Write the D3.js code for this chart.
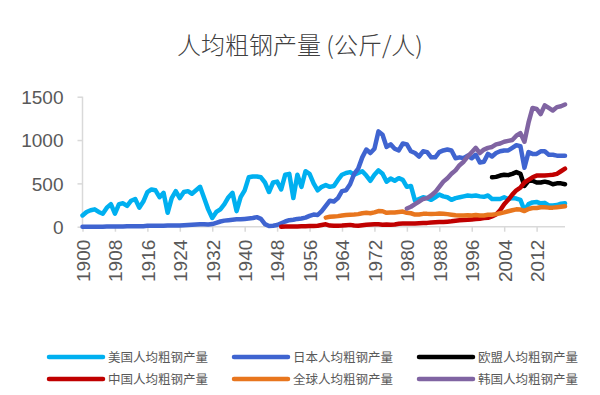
<!DOCTYPE html>
<html>
<head>
<meta charset="utf-8">
<script src="https://cdn.jsdelivr.net/npm/d3@7"></script>
<style>
    body { margin: 0; background: #fff; }
    .tickText { font-family: "Liberation Sans", Arial, sans-serif; font-size: 19px; fill: #595959; }
    .legendText { font-family: "Noto Sans CJK SC", sans-serif; font-size: 12.5px; fill: #595959; }
</style>
</head>
<body>
<div id="my_dataviz"></div>
<script>
/**
 * Data: kg of crude steel per person, one array per series
 */
var seriesNames = ["美国人均粗钢产量", "日本人均粗钢产量", "欧盟人均粗钢产量", "中国人均粗钢产量", "全球人均粗钢产量", "韩国人均粗钢产量"];
var seriesColors = ["#00B0F0", "#3F64D0", "#000000", "#C00000", "#E8761E", "#8064A2"];
var xTicks = [1900, 1908, 1916, 1924, 1932, 1940, 1948, 1956, 1964, 1972, 1980, 1988, 1996, 2004, 2012];
var yTicks = [0, 500, 1000, 1500];

// 1900 - 2019
var usa = [130, 170, 190, 200, 170, 150, 220, 260, 150, 260,
    270, 240, 300, 320, 220, 290, 400, 430, 420, 340,
    390, 160, 330, 410, 330, 400, 410, 380, 420, 460,
    330, 200, 100, 170, 200, 260, 340, 390, 180, 340,
    420, 570, 580, 580, 570, 510, 400, 510, 520, 430,
    600, 610, 330, 600, 460, 640, 610, 500, 420, 460,
    480, 460, 470, 540, 600, 620, 630, 600, 620, 640,
    590, 530, 600, 650, 610, 520, 555, 530, 560, 540,
    460, 470, 300, 320, 340, 330, 310, 340, 370, 350,
    340, 310, 330, 340, 350, 360, 355, 360, 350, 345,
    360, 320, 320, 320, 340, 320, 330, 325, 310, 190,
    260, 280, 285, 270, 275, 245, 245, 250, 265, 270];
// 1900 - 2019
var japan = [0, 0, 0, 0, 0, 0, 2, 2, 2, 2,
    3, 5, 5, 5, 5, 6, 10, 10, 10, 10,
    12, 15, 15, 15, 15, 18, 20, 22, 25, 28,
    28, 25, 30, 45, 60, 70, 75, 80, 85, 85,
    90, 95, 100, 110, 90, 30, 8, 12, 20, 40,
    60, 75, 80, 90, 95, 105, 125, 140, 135, 180,
    240, 300, 290, 330, 410, 420, 490, 610, 670, 800,
    890, 850, 900, 1100, 1060, 920, 950, 900, 880, 960,
    950, 870, 850, 810, 870, 860, 800, 800, 860, 880,
    890, 880, 790, 800, 790, 820, 790, 830, 740, 750,
    840, 810, 850, 870, 880, 880, 910, 940, 930, 680,
    860, 840, 840, 870, 870, 830, 830, 820, 820, 820];
// 2001 - 2019
var eu = [570, 575, 590, 600, 595, 610, 630, 610, 470, 530,
    530, 510, 510, 520, 510, 490, 500, 500, 490];
// 1949 - 2019
var china = [0,
    1, 2, 2, 3, 4, 5, 7, 8, 12, 20,
    28, 13, 10, 11, 13, 17, 21, 14, 12, 17,
    22, 25, 27, 28, 23, 26, 22, 25, 33, 36,
    38, 36, 37, 39, 42, 44, 49, 52, 54, 55,
    58, 62, 69, 75, 78, 79, 83, 88, 92, 99,
    102, 119, 140, 190, 260, 310, 370, 420, 450, 510,
    540, 570, 590, 590, 590, 595, 600, 610, 640, 670];
// 1960 - 2019
var world = [105, 115, 118, 122, 130, 135, 138, 140, 145, 155,
    160, 155, 165, 180, 178, 160, 165, 165, 170, 175,
    160, 155, 140, 140, 148, 148, 146, 148, 152, 150,
    145, 138, 132, 130, 130, 133, 130, 135, 130, 130,
    138, 138, 145, 155, 165, 178, 190, 200, 198, 180,
    205, 215, 215, 225, 225, 220, 220, 225, 230, 235];
// 1980 - 2019
var korea = [210, 230, 260, 290, 320, 330, 360, 400, 460, 520,
    560, 610, 650, 710, 750, 810, 860, 910, 850, 890,
    910, 920, 950, 960, 980, 990, 1000, 1050, 1080, 980,
    1200, 1370, 1360, 1300, 1400, 1370, 1340, 1380, 1390, 1410];

var startYears = [1900, 1900, 2001, 1949, 1960, 1980];
var seriesValues = [usa, japan, eu, china, world, korea];

/**
 * Stage
 */
var width = 600,
    height = 395;

var svg = d3.select("#my_dataviz")
    .append("svg")
    .attr("width", width)
    .attr("height", height);

var x = d3.scaleLinear().domain([1900, 2019]).range([82.5, 565]);
var y = d3.scaleLinear().domain([0, 1500]).range([226.7, 96.7]);

/**
 * Title
 */
svg.append("text")
    .attr("x", 300)
    .attr("y", 54)
    .attr("text-anchor", "middle")
    .style("font-family", "'Noto Sans CJK SC', sans-serif")
    .style("font-size", "24px")
    .style("font-weight", 300)
    .style("fill", "#404040")
    .text("人均粗钢产量 (公斤/人)");

/**
 * Axes
 */
var yAxis = svg.append("g")
    .attr("transform", "translate(" + x(1900) + ",0)")
    .call(d3.axisLeft(y).tickValues(yTicks).tickSize(5).tickPadding(14).tickFormat(d3.format("d")));

var xAxis = svg.append("g")
    .attr("transform", "translate(0," + y(0) + ")")
    .call(d3.axisBottom(x).tickValues(xTicks).tickSize(5).tickFormat(d3.format("d")));

svg.selectAll(".domain, .tick line")
    .attr("stroke", "#D9D9D9")
    .attr("stroke-width", 1.5);

yAxis.select(".domain").attr("d", "M0," + y(1500) + "V" + y(0));
xAxis.select(".domain").attr("d", "M" + x(1900) + ",0H" + x(2019));

yAxis.selectAll("text").attr("class", "tickText").attr("dy", "0.36em");

xAxis.selectAll("text")
    .attr("class", "tickText")
    .attr("text-anchor", "end")
    .attr("transform", "rotate(-90)")
    .attr("x", -13)
    .attr("y", 0)
    .attr("dy", "0.36em");

/**
 * Lines
 */
var line = d3.line()
    .x(function (d) { return x(d.year); })
    .y(function (d) { return y(d.value); });

seriesValues.forEach(function (vals, i) {
    var pts = vals.map(function (v, j) { return { year: startYears[i] + j, value: v }; });
    svg.append("path")
        .datum(pts)
        .attr("d", line)
        .attr("fill", "none")
        .attr("stroke", seriesColors[i])
        .attr("stroke-width", 4.5)
        .attr("stroke-linejoin", "round")
        .attr("stroke-linecap", "round");
});

/**
 * Legend, 3 columns x 2 rows
 */
var legendX = [49, 234, 419];
var legendY = [357, 379];

var legend = svg.selectAll("legendItems")
    .data(seriesNames)
    .enter()
    .append("g")
    .attr("transform", function (d, i) {
        return "translate(" + legendX[i % 3] + "," + legendY[Math.floor(i / 3)] + ")";
    });

legend.append("line")
    .attr("x1", 0)
    .attr("x2", 54)
    .attr("stroke", function (d, i) { return seriesColors[i]; })
    .attr("stroke-width", 4.5)
    .attr("stroke-linecap", "round");

legend.append("text")
    .attr("class", "legendText")
    .attr("x", 59)
    .attr("dy", "0.36em")
    .text(function (d) { return d; });
</script>
</body>
</html>
